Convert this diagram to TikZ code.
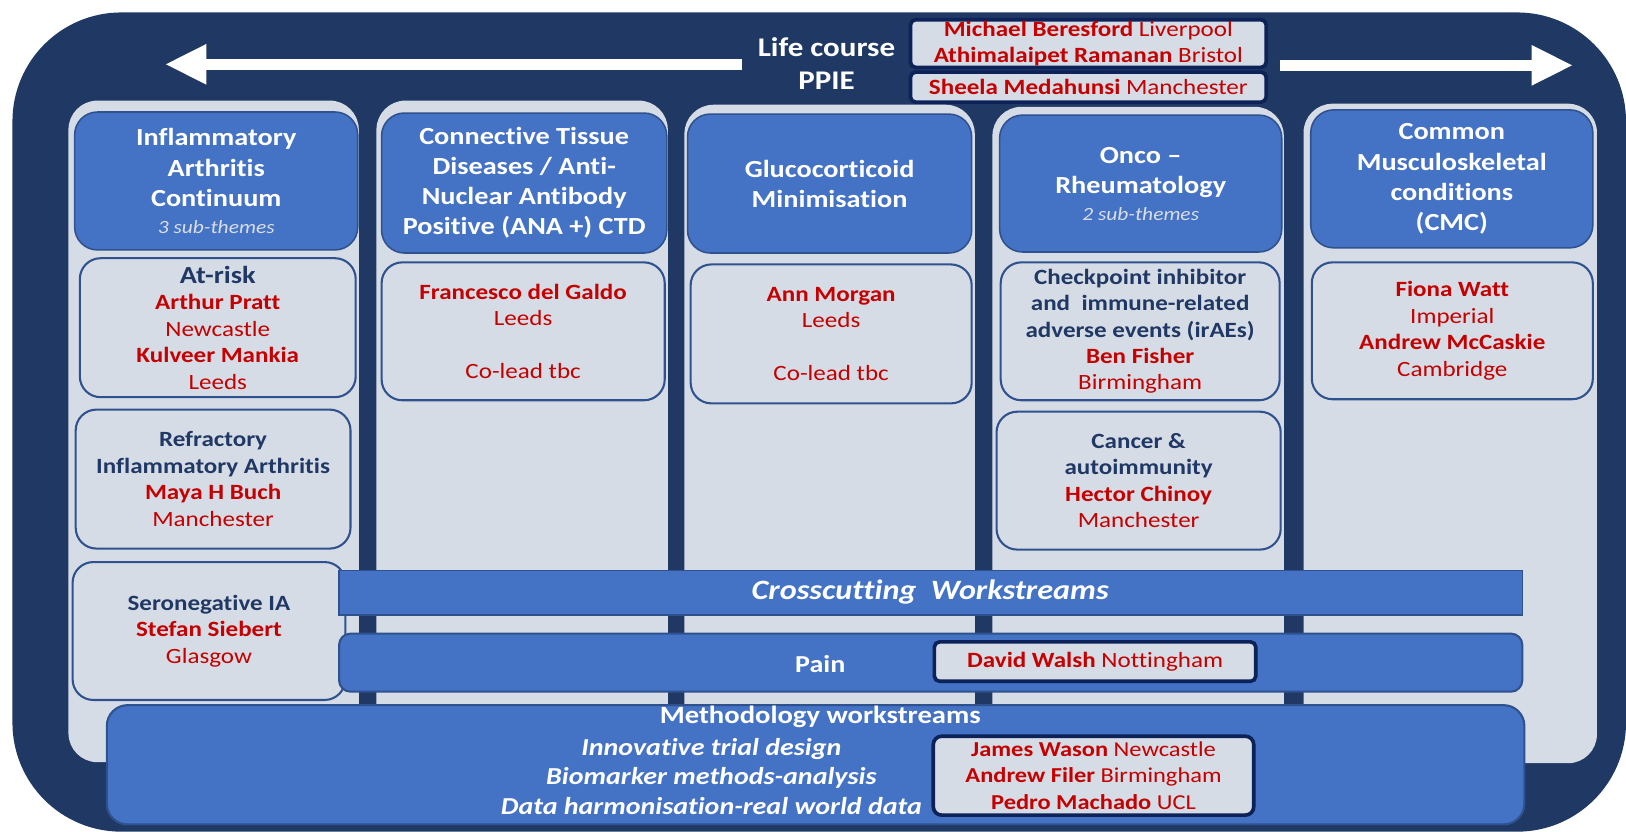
\documentclass[tikz,border=0pt]{standalone}
\usepackage{fontspec}
\setmainfont{Carlito}[FakeStretch=1.15, Ligatures=NoCommon]
\usetikzlibrary{arrows.meta}
\definecolor{navy}{RGB}{32,56,100}
\definecolor{darknavy}{RGB}{12,34,88}
\definecolor{colfill}{RGB}{214,220,229}
\definecolor{hdrblue}{RGB}{68,114,196}
\definecolor{hdrborder}{RGB}{47,82,143}
\definecolor{rd}{RGB}{196,0,0}
\definecolor{subgray}{RGB}{217,222,230}
\newcommand{\rname}[1]{{\color{rd}\bfseries #1}}
\newcommand{\rplace}[1]{{\color{rd}\mdseries #1}}
\newcommand{\ntxt}[1]{{\color{navy}\bfseries #1}}
\newcommand{\subit}[1]{{\color{subgray}\mdseries\itshape\fontsize{18}{21}\selectfont #1}}
\tikzset{
  outerbox/.style={fill=navy, rounded corners=105pt},
  colbox/.style={fill=colfill, rounded corners=28pt, inner sep=0pt},
  hdrbox/.style={draw=hdrborder, line width=1.5pt, fill=hdrblue, rounded corners=22pt,
    text=white, align=center, inner sep=0pt, font=\fontsize{23.7}{29}\selectfont\bfseries},
  subbox/.style={draw=hdrborder, line width=2pt, fill=colfill, rounded corners=20pt,
    align=center, inner sep=0pt, font=\fontsize{21}{25.5}\selectfont},
  namebox/.style={draw=darknavy, line width=3.5pt, fill=colfill, rounded corners=5pt,
    align=center, inner sep=0pt, font=\fontsize{21}{25}\selectfont},
  band/.style={draw=hdrborder, line width=1.5pt, fill=hdrblue, inner sep=0pt},
  whitetxt/.style={text=white, align=center, inner sep=0pt},
  bigarrow/.style={draw=white, line width=11pt, -{Triangle[length=40pt,width=36pt]}},
}
\begin{document}
\begin{tikzpicture}[x=1pt,y=-1pt]
\useasboundingbox[fill=white] (0,0) rectangle (1568,802);
% outer frame
\path[outerbox] (12,12) rectangle (1568,802);
% arrows
\coordinate (la0) at (716,62);
\coordinate (la1) at (159,62);
\coordinate (ra0) at (1234,63);
\coordinate (ra1) at (1517,63);
\draw[bigarrow] (la0) -- (la1);
\draw[bigarrow] (ra0) -- (ra1);
\node[whitetxt, font=\fontsize{26}{32}\selectfont\bfseries] (life) at (797,61) {Life course\\PPIE};
% PPIE boxes
\node[namebox, minimum width=343pt, minimum height=46pt] (ppie1) at (1049.5,42) {\rname{Michael Beresford} \rplace{Liverpool}\\\rname{Athimalaipet Ramanan} \rplace{Bristol}};
\node[namebox, minimum width=343pt, minimum height=29pt] (ppie2) at (1049.5,84) {\rname{Sheela Medahunsi} \rplace{Manchester}};
% columns
\node[colbox, minimum width=280pt, minimum height=638pt] (c1) at (206,416) {};
\node[colbox, minimum width=281pt, minimum height=638pt] (c2) at (503.5,416) {};
\node[colbox, minimum width=280pt, minimum height=634pt] (c3) at (800,418) {};
\node[colbox, minimum width=281pt, minimum height=632pt] (c4) at (1097.5,419) {};
\node[colbox, minimum width=283pt, minimum height=636pt] (c5) at (1398.5,418) {};
% headers
\node[hdrbox, minimum width=273pt, minimum height=133pt] (h1) at (208.5,174.5) {Inflammatory\\Arthritis\\Continuum\\[-3pt]\subit{3 sub-themes}};
\node[hdrbox, minimum width=275pt, minimum height=135pt] (h2) at (505.5,176.5) {Connective Tissue\\Diseases / Anti-\\Nuclear Antibody\\Positive (ANA +) CTD};
\node[hdrbox, minimum width=274pt, minimum height=134pt] (h3) at (800,177) {Glucocorticoid\\Minimisation};
\node[hdrbox, minimum width=272pt, minimum height=132pt] (h4) at (1100,177) {Onco --\\Rheumatology\\[-3pt]\subit{2 sub-themes}};
\node[hdrbox, minimum width=272pt, minimum height=133pt] (h5) at (1400,172.5) {Common\\Musculoskeletal\\conditions\\(CMC)};
% sub boxes
\node[subbox, minimum width=266pt, minimum height=134pt] (s1) at (210,316) {{\color{navy}\bfseries\fontsize{23.7}{25.5}\selectfont At-risk}\\\rname{Arthur Pratt}\\\rplace{Newcastle}\\\rname{Kulveer Mankia}\\\rplace{Leeds}};
\node[subbox, minimum width=265pt, minimum height=134pt] (s2) at (205.5,462) {\ntxt{Refractory}\\\ntxt{Inflammatory Arthritis}\\\rname{Maya H Buch}\\\rplace{Manchester}};
\node[subbox, minimum width=263pt, minimum height=133pt] (s3) at (201.5,608.5) {\ntxt{Seronegative IA}\\\rname{Stefan Siebert}\\\rplace{Glasgow}};
\node[subbox, minimum width=273pt, minimum height=133pt] (s4) at (504.5,319.5) {\rname{Francesco del Galdo}\\\rplace{Leeds}\\[25pt]\rplace{Co-lead tbc}};
\node[subbox, minimum width=271pt, minimum height=134pt] (s5) at (801.5,322) {\rname{Ann Morgan}\\\rplace{Leeds}\\[25pt]\rplace{Co-lead tbc}};
\node[subbox, minimum width=269pt, minimum height=133pt] (s6) at (1099.5,319.5) {\ntxt{Checkpoint inhibitor}\\\ntxt{and\ \ immune-related}\\\ntxt{adverse events (irAEs)}\\\rname{Ben Fisher}\\\rplace{Birmingham}};
\node[subbox, minimum width=274pt, minimum height=133pt] (s7) at (1098,463.5) {\ntxt{Cancer \&}\\\ntxt{autoimmunity}\\\rname{Hector Chinoy}\\\rplace{Manchester}};
\node[subbox, minimum width=271pt, minimum height=132pt] (s8) at (1400.5,319) {\rname{Fiona Watt}\\\rplace{Imperial}\\\rname{Andrew McCaskie}\\\rplace{Cambridge}};
% crosscutting band
\node[band, minimum width=1141pt, minimum height=43pt] (cross) at (897.5,571.5) {};
\node[whitetxt, font=\fontsize{27}{30}\selectfont\bfseries\itshape] (crosst) at (897,571) {Crosscutting\ \ Workstreams};
% pain band
\node[band, rounded corners=11pt, line width=2pt, minimum width=1141pt, minimum height=56pt] (pain) at (897.5,639) {};
\node[whitetxt, font=\fontsize{23.5}{28}\selectfont\bfseries] (paint) at (791,640) {Pain};
\node[namebox, minimum width=310pt, minimum height=38pt] (walsh) at (1056,638) {\rname{David Walsh} \rplace{Nottingham}};
% methodology
\node[band, rounded corners=20pt, line width=2pt, minimum width=1367pt, minimum height=115pt] (meth) at (786.5,737.5) {};
\node[whitetxt, font=\fontsize{24}{28}\selectfont\bfseries] (metht) at (791,691) {Methodology workstreams};
\node[whitetxt, font=\fontsize{23.5}{28.5}\selectfont\bfseries\itshape] (methl) at (686,748.5) {Innovative trial design\\Biomarker methods-analysis\\Data harmonisation-real world data};
\node[namebox, rounded corners=8pt, minimum width=309pt, minimum height=76pt, font=\fontsize{20.5}{25.5}\selectfont] (wason) at (1054.5,748) {\rname{James Wason} \rplace{Newcastle}\\\rname{Andrew Filer} \rplace{Birmingham}\\\rname{Pedro Machado} \rplace{UCL}};
\end{tikzpicture}
\end{document}
